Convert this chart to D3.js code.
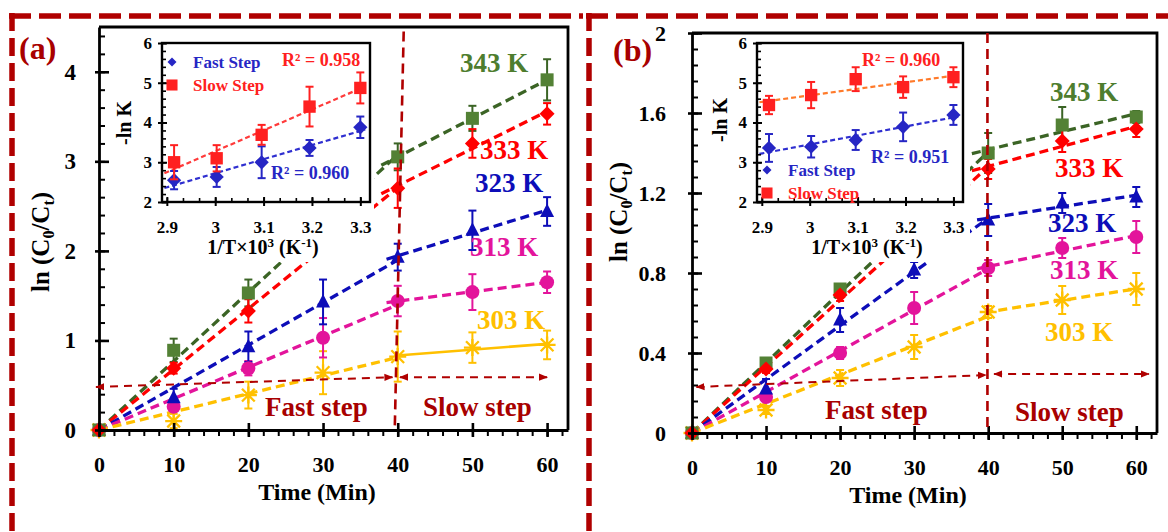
<!DOCTYPE html>
<html><head><meta charset="utf-8">
<script src="https://cdn.jsdelivr.net/npm/d3@7"></script>
<style>
body{margin:0;background:#fff;}
svg{display:block;}
</style></head><body>
<svg id="c" width="1168" height="532"></svg>
<script>
// ---------------- DATA ----------------
const times = [0, 10, 20, 30, 40, 50, 60];
const seriesLabels = ["343 K", "333 K", "323 K", "313 K", "303 K"];
const xTicks = [0, 10, 20, 30, 40, 50, 60];
const aYTicks = [0, 1, 2, 3, 4];
const bYTicks = [0, 0.4, 0.8, 1.2, 1.6, 2];
const insetXTicks = [2.9, 3.0, 3.1, 3.2, 3.3];
const insetYTicks = [2, 3, 4, 5, 6];

// panel (a)  ln(C0/Ct)
const a343 = [0, 0.89, 1.53, 2.30, 3.05, 3.48, 3.91];
const a343Err = [0, 0.13, 0.15, 0.15, 0.15, 0.14, 0.23];
const a333 = [0, 0.69, 1.33, 2.05, 2.70, 3.20, 3.53];
const a333Err = [0, 0.06, 0.13, 0.15, 0.22, 0.16, 0.12];
const a323 = [0, 0.36, 0.93, 1.43, 1.93, 2.23, 2.44];
const a323Err = [0, 0.10, 0.17, 0.25, 0.15, 0.22, 0.16];
const a313 = [0, 0.26, 0.69, 1.03, 1.44, 1.54, 1.65];
const a313Err = [0, 0.05, 0.08, 0.22, 0.17, 0.20, 0.12];
const a303 = [0, 0.10, 0.39, 0.64, 0.82, 0.92, 0.95];
const a303Err = [0, 0.08, 0.15, 0.24, 0.28, 0.17, 0.16];

// panel (b)
const b343 = [0, 0.35, 0.72, 1.05, 1.40, 1.54, 1.58];
const b343Err = [0, 0.02, 0.02, 0.05, 0.10, 0.09, 0.03];
const b333 = [0, 0.32, 0.69, 1.00, 1.32, 1.46, 1.52];
const b333Err = [0, 0.02, 0.03, 0.05, 0.05, 0.055, 0.04];
const b323 = [0, 0.22, 0.565, 0.815, 1.065, 1.15, 1.18];
const b323Err = [0, 0.05, 0.06, 0.04, 0.08, 0.05, 0.05];
const b313 = [0, 0.18, 0.40, 0.625, 0.825, 0.925, 0.98];
const b313Err = [0, 0.02, 0.03, 0.08, 0.04, 0.05, 0.08];
const b303 = [0, 0.115, 0.275, 0.43, 0.605, 0.665, 0.72];
const b303Err = [0, 0.02, 0.04, 0.06, 0.03, 0.07, 0.08];

// insets  -ln K vs 1/T x 10^3
const invT = [2.915, 3.003, 3.096, 3.195, 3.300];
const aFastK = [2.55, 2.63, 3.00, 3.36, 3.88];
const aFastErr = [0.23, 0.25, 0.40, 0.20, 0.27];
const aSlowK = [3.00, 3.10, 3.69, 4.40, 4.87];
const aSlowErr = [0.43, 0.33, 0.25, 0.50, 0.39];
const bFastK = [3.36, 3.39, 3.56, 3.89, 4.19];
const bFastErr = [0.35, 0.27, 0.25, 0.36, 0.25];
const bSlowK = [4.44, 4.69, 5.09, 4.89, 5.14];
const bSlowErr = [0.23, 0.33, 0.30, 0.27, 0.25];
const r2Labels = {aSlow: "0.958", aFast: "0.960", bSlow: "0.960", bFast: "0.951"};

// ---------------- STYLE ----------------
const SERIF = "'Liberation Serif','Times New Roman',serif";
const DARKRED = "#b00000";
const C = {
  green: "#538135", greenLine: "#3b6425", red: "#ff0000", blue: "#0d0db8",
  magenta: "#e3149b", yellow: "#ffc000", iBlue: "#2626c4", iRed: "#ff2020"
};

const svg = d3.select('#c');
const defs = svg.append('defs');
defs.append('marker').attr('id', 'ah').attr('viewBox', '0 0 10 10')
  .attr('refX', 9).attr('refY', 5).attr('markerWidth', 9).attr('markerHeight', 9)
  .attr('markerUnits', 'userSpaceOnUse').attr('orient', 'auto-start-reverse')
  .append('path').attr('d', 'M0,1L10,5L0,9Z').attr('fill', DARKRED);

function marker(g, type, cx, cy, color, s) {
  s = s || 1;
  if (type === 'square') {
    const h = 6.5 * s;
    g.append('rect').attr('x', cx - h).attr('y', cy - h).attr('width', 2 * h).attr('height', 2 * h).attr('fill', color);
  } else if (type === 'diamond') {
    const h = 7.5 * s;
    g.append('path').attr('d', `M${cx},${cy - h}L${cx + h},${cy}L${cx},${cy + h}L${cx - h},${cy}Z`).attr('fill', color);
  } else if (type === 'triangle') {
    g.append('path').attr('d', `M${cx},${cy - 8 * s}L${cx + 7 * s},${cy + 5.5 * s}L${cx - 7 * s},${cy + 5.5 * s}Z`).attr('fill', color);
  } else if (type === 'circle') {
    g.append('circle').attr('cx', cx).attr('cy', cy).attr('r', 7 * s).attr('fill', color);
  } else if (type === 'star') {
    const r = 8.5 * s, d = r * 0.75;
    g.append('path').attr('d', `M${cx},${cy - r}L${cx},${cy + r}M${cx - d},${cy - d}L${cx + d},${cy + d}M${cx - d},${cy + d}L${cx + d},${cy - d}M${cx - r},${cy}L${cx + r},${cy}`)
      .attr('stroke', color).attr('stroke-width', 2.3).attr('fill', 'none');
  }
}

function errBar(g, xp, y, v, e, color, cap, w) {
  if (!e) return;
  g.append('line').attr('x1', xp).attr('x2', xp).attr('y1', y(v - e)).attr('y2', y(v + e))
    .attr('stroke', color).attr('stroke-width', w);
  [v - e, v + e].forEach(q => g.append('line').attr('x1', xp - cap).attr('x2', xp + cap)
    .attr('y1', y(q)).attr('y2', y(q)).attr('stroke', color).attr('stroke-width', w));
}

function linreg(xs, ys) {
  const mx = d3.mean(xs), my = d3.mean(ys);
  const sxy = d3.sum(xs, (xv, i) => (xv - mx) * (ys[i] - my));
  const sxx = d3.sum(xs, xv => (xv - mx) * (xv - mx));
  const k = sxy / sxx;
  return {k, b: my - k * mx};
}

function styleAxisText(sel, size) {
  sel.attr('font-family', SERIF).attr('font-size', size).attr('font-weight', 'bold');
}

function text(g, str, x, y, size, color, anchor) {
  return g.append('text').attr('x', x).attr('y', y).attr('font-family', SERIF)
    .attr('font-size', size).attr('font-weight', 'bold').attr('fill', color)
    .attr('text-anchor', anchor || 'start').text(str);
}

function drawPanel(P) {
  const g = svg.append('g');
  const x = d3.scaleLinear().domain([0, 62.8]).range(P.xr);
  const y = d3.scaleLinear().domain(P.yDom).range(P.yr);
  const X0 = P.xr[0], Y0 = P.yr[0];

  // dashed border
  g.append('line').attr('x1', P.bx1).attr('x2', P.bx2).attr('y1', 16).attr('y2', 16)
    .attr('stroke', DARKRED).attr('stroke-width', 5.5).attr('stroke-dasharray', '22 8');
  g.append('line').attr('x1', P.bl).attr('x2', P.bl).attr('y1', 13).attr('y2', 532)
    .attr('stroke', DARKRED).attr('stroke-width', 5.5).attr('stroke-dasharray', '18 7');

  // frame top / right
  g.append('path').attr('d', `M${X0},${P.yr[1]}H${P.xr[1]}V${Y0}`).attr('fill', 'none')
    .attr('stroke', '#000').attr('stroke-width', 2.8);

  // trend lines
  P.series.forEach(s => {
    const fi = times.map((t, i) => i).filter(i => times[i] <= 40);
    const kf = d3.sum(fi, i => times[i] * s.vals[i]) / d3.sum(fi, i => times[i] * times[i]);
    g.append('line').attr('x1', x(0)).attr('y1', y(0)).attr('x2', x(40)).attr('y2', y(40 * kf))
      .attr('stroke', s.line).attr('stroke-width', 3.3).attr('stroke-dasharray', '9 5');
    const si = times.map((t, i) => i).filter(i => times[i] >= 40);
    const r = linreg(si.map(i => times[i]), si.map(i => s.vals[i]));
    const t0 = s.slowStart;
    g.append('line').attr('x1', x(t0)).attr('y1', y(r.k * t0 + r.b)).attr('x2', x(60)).attr('y2', y(r.k * 60 + r.b))
      .attr('stroke', s.line).attr('stroke-width', s.slowSolid ? 2.6 : 3.3)
      .attr('stroke-dasharray', s.slowSolid ? null : '9 5');
  });

  // error bars + markers (drawing order)
  P.order.forEach(idx => {
    const s = P.series[idx];
    times.forEach((t, i) => errBar(g, x(t), y, s.vals[i], s.errs[i], s.errColor, 4, 2));
  });
  P.order.forEach(idx => {
    const s = P.series[idx];
    times.forEach((t, i) => marker(g, s.marker, x(t), y(s.vals[i]), s.color));
  });

  // axes
  const gx = g.append('g').attr('transform', `translate(0,${Y0})`)
    .call(d3.axisBottom(x).tickValues(xTicks).tickSizeInner(7).tickSizeOuter(0).tickFormat(d3.format('d')));
  gx.selectAll('.tick line').attr('y1', -7).attr('y2', 7).attr('stroke-width', 2.6);
  gx.selectAll('.tick text').attr('y', P.xLabOff).attr('dy', 0);
  gx.select('.domain').attr('stroke-width', 2.8);
  styleAxisText(gx, 22);
  const gxm = g.append('g').attr('transform', `translate(0,${Y0})`)
    .call(d3.axisBottom(x).tickValues(d3.range(0, 63, 2)).tickSize(6).tickFormat(''));
  gxm.select('.domain').remove();
  gxm.selectAll('.tick line').attr('stroke-width', 2);

  const gy = g.append('g').attr('transform', `translate(${X0},0)`)
    .call(d3.axisLeft(y).tickValues(P.yTicks).tickSizeInner(4).tickSizeOuter(0).tickFormat(d3.format('~g')));
  gy.selectAll('.tick line').attr('x1', -4).attr('x2', 10).attr('stroke-width', 2.6);
  gy.selectAll('.tick text').attr('x', -P.yLabOff);
  gy.select('.domain').attr('stroke-width', 2.8);
  styleAxisText(gy, P.yFont);
  const gym = g.append('g').attr('transform', `translate(${X0},0)`)
    .call(d3.axisLeft(y).tickValues(P.yMinor).tickSize(-6).tickFormat(''));
  gym.select('.domain').remove();
  gym.selectAll('.tick line').attr('stroke-width', 2);

  // axis titles
  text(g, 'Time (Min)', P.xTitle[0], P.xTitle[1], 24, '#000', 'middle');
  const yt = g.append('text').attr('transform', `translate(${P.yTitle[0]},${P.yTitle[1]}) rotate(-90)`)
    .attr('font-family', SERIF).attr('font-size', 25).attr('font-weight', 'bold').attr('text-anchor', 'middle');
  yt.append('tspan').text('ln (C');
  yt.append('tspan').attr('font-size', 16).attr('dy', 5).text('0');
  yt.append('tspan').attr('dy', -5).text('/C');
  yt.append('tspan').attr('font-size', 16).attr('dy', 5).text('t');
  yt.append('tspan').attr('dy', -5).text(')');

  // vertical separator and arrows
  g.append('line').attr('x1', x(P.vline[0])).attr('y1', y(P.vline[2])).attr('x2', x(P.vline[1])).attr('y2', y(0))
    .attr('stroke', DARKRED).attr('stroke-width', 2.6).attr('stroke-dasharray', '10 6');
  P.arrows.forEach(a => {
    g.append('line').attr('x1', x(a[0])).attr('y1', y(a[1])).attr('x2', x(a[2])).attr('y2', y(a[3]))
      .attr('stroke', DARKRED).attr('stroke-width', 2).attr('stroke-dasharray', '8 6')
      .attr('marker-start', 'url(#ah)').attr('marker-end', 'url(#ah)');
  });
  text(g, 'Fast step', P.fastLab[0], P.fastLab[1], 27, '#a80000');
  text(g, 'Slow step', P.slowLab[0], P.slowLab[1], 27, '#a80000');

  // series labels
  P.series.forEach((s, i) => text(g, seriesLabels[i], s.lab[0], s.lab[1], 27, s.labColor));

  // panel tag
  text(g, P.tag, P.tagPos[0], P.tagPos[1], 32, '#a80000');

  // ---------- inset ----------
  const I = P.inset;
  g.append('rect').attr('x', I.bg[0]).attr('y', I.bg[1]).attr('width', I.bg[2] - I.bg[0]).attr('height', I.bg[3] - I.bg[1]).attr('fill', '#fff');
  const ix = d3.scaleLinear().domain([2.89, 3.32]).range(I.xr);
  const iy = d3.scaleLinear().domain([2, 6]).range(I.yr);
  const pts = [
    {vals: I.fast, errs: I.fastErr, color: C.iBlue, line: I.fastLine, type: 'diamond'},
    {vals: I.slow, errs: I.slowErr, color: C.iRed, line: I.slowLine, type: 'square'}
  ];
  pts.forEach(p => {
    const r = linreg(invT, p.vals);
    g.append('line').attr('x1', ix(2.895)).attr('y1', iy(r.k * 2.895 + r.b)).attr('x2', ix(3.31)).attr('y2', iy(r.k * 3.31 + r.b))
      .attr('stroke', p.line).attr('stroke-width', 2.2).attr('stroke-dasharray', '5 3');
  });
  pts.forEach(p => {
    invT.forEach((t, i) => errBar(g, ix(t), iy, p.vals[i], p.errs[i], p.color, 4, 2));
    invT.forEach((t, i) => marker(g, p.type, ix(t), iy(p.vals[i]), p.color, 0.95));
  });
  g.append('rect').attr('x', I.xr[0]).attr('y', I.yr[1]).attr('width', I.xr[1] - I.xr[0]).attr('height', I.yr[0] - I.yr[1])
    .attr('fill', 'none').attr('stroke', '#000').attr('stroke-width', 2.4);
  const igx = g.append('g').attr('transform', `translate(0,${I.yr[0]})`)
    .call(d3.axisBottom(ix).tickValues(insetXTicks).tickSizeOuter(0).tickFormat(d3.format('~g')));
  igx.selectAll('.tick line').attr('y1', -5).attr('y2', 4).attr('stroke-width', 2);
  igx.selectAll('.tick text').attr('y', 31).attr('dy', 0);
  igx.select('.domain').remove();
  styleAxisText(igx, 17);
  const igxm = g.append('g').attr('transform', `translate(0,${I.yr[0]})`)
    .call(d3.axisBottom(ix).tickValues(d3.range(2.9, 3.32, 0.1 / 3)).tickSize(-4).tickFormat(''));
  igxm.select('.domain').remove();
  igxm.selectAll('.tick line').attr('stroke-width', 1.6);
  const igy = g.append('g').attr('transform', `translate(${I.xr[0]},0)`)
    .call(d3.axisLeft(iy).tickValues(insetYTicks).tickSizeOuter(0).tickFormat(d3.format('d')));
  igy.selectAll('.tick line').attr('x1', -4).attr('x2', 5).attr('stroke-width', 2);
  igy.selectAll('.tick text').attr('x', -10);
  igy.select('.domain').remove();
  styleAxisText(igy, 17);
  const igym = g.append('g').attr('transform', `translate(${I.xr[0]},0)`)
    .call(d3.axisLeft(iy).tickValues(d3.range(2, 6.01, 0.2)).tickSize(-4).tickFormat(''));
  igym.select('.domain').remove();
  igym.selectAll('.tick line').attr('stroke-width', 1.6);

  // inset titles
  const ixt = g.append('text').attr('x', I.xTitle[0]).attr('y', I.xTitle[1]).attr('text-anchor', 'middle')
    .attr('font-family', SERIF).attr('font-size', 20).attr('font-weight', 'bold');
  ixt.append('tspan').text('1/T×10');
  ixt.append('tspan').attr('font-size', 13).attr('dy', -7).text('3');
  ixt.append('tspan').attr('dy', 7).text(' (K');
  ixt.append('tspan').attr('font-size', 13).attr('dy', -7).text('-1');
  ixt.append('tspan').attr('dy', 7).text(')');
  g.append('text').attr('transform', `translate(${I.yTitle[0]},${I.yTitle[1]}) rotate(-90)`)
    .attr('text-anchor', 'middle').attr('font-family', SERIF).attr('font-size', 20).attr('font-weight', 'bold').text('-ln K');

  // legend
  marker(g, 'diamond', I.leg[0], I.leg[1], C.iBlue, 0.6);
  text(g, 'Fast Step', I.leg[0] + 21, I.leg[1] + 6, 17, C.iBlue);
  marker(g, 'square', I.leg[0], I.leg[1] + 23, C.iRed, 0.85);
  text(g, 'Slow Step', I.leg[0] + 21, I.leg[1] + 29, 17, C.iRed);
  text(g, 'R² = ' + I.r2Slow, I.r2SlowPos[0], I.r2SlowPos[1], 18, C.iRed);
  text(g, 'R² = ' + I.r2Fast, I.r2FastPos[0], I.r2FastPos[1], 18, C.iBlue);
}

function mkSeries(vals, errs, lab, slowSolidYellow) {
  return [
    {vals: vals[0], errs: errs[0], color: C.green, line: C.greenLine, errColor: C.greenLine, marker: 'square', lab: lab[0], labColor: '#4e7d2e', slowStart: 37.8},
    {vals: vals[1], errs: errs[1], color: C.red, line: C.red, errColor: C.red, marker: 'diamond', lab: lab[1], labColor: C.red, slowStart: 37.8},
    {vals: vals[2], errs: errs[2], color: C.blue, line: C.blue, errColor: C.blue, marker: 'triangle', lab: lab[2], labColor: C.blue, slowStart: 38.5},
    {vals: vals[3], errs: errs[3], color: C.magenta, line: C.magenta, errColor: C.magenta, marker: 'circle', lab: lab[3], labColor: C.magenta, slowStart: 38.5},
    {vals: vals[4], errs: errs[4], color: C.yellow, line: C.yellow, errColor: C.yellow, marker: 'star', lab: lab[4], labColor: C.yellow, slowStart: 39.5, slowSolid: slowSolidYellow}
  ];
}

drawPanel({
  tag: '(a)', tagPos: [19, 59], bx1: 9, bx2: 583, bl: 12,
  xr: [99, 568], yr: [430, 27], yDom: [0, 4.5], yTicks: aYTicks, yMinor: d3.range(0, 4.41, 0.2),
  yFont: 23, yLabOff: 23, xLabOff: 42,
  xTitle: [317, 500], yTitle: [49, 242],
  vline: [40.8, 39.6, 4.45],
  arrows: [[-0.4, 0.48, 39.3, 0.59], [40.3, 0.59, 60, 0.59]],
  fastLab: [265, 416], slowLab: [423, 416],
  series: mkSeries([a343, a333, a323, a313, a303], [a343Err, a333Err, a323Err, a313Err, a303Err],
    [[460, 72], [480, 159], [475, 192], [470, 256], [477, 329]], true),
  order: [4, 3, 2, 0, 1],
  inset: {
    bg: [112, 36, 374, 262], xr: [162, 370], yr: [202, 43],
    fast: aFastK, fastErr: aFastErr, slow: aSlowK, slowErr: aSlowErr,
    fastLine: '#2f2fd0', slowLine: '#ff3b3b',
    xTitle: [263, 254], yTitle: [131, 123], leg: [172, 62],
    r2Slow: r2Labels.aSlow, r2SlowPos: [282, 66], r2Fast: r2Labels.aFast, r2FastPos: [271, 179]
  }
});

drawPanel({
  tag: '(b)', tagPos: [613, 61], bx1: 586, bx2: 1168, bl: 589,
  xr: [692, 1157], yr: [433, 33], yDom: [0, 2], yTicks: bYTicks, yMinor: d3.range(0, 2.001, 0.08),
  yFont: 22, yLabOff: 26, xLabOff: 42,
  xTitle: [908, 503], yTitle: [627, 212],
  vline: [39.9, 39.9, 2],
  arrows: [[0.6, 0.23, 39.7, 0.29], [40.8, 0.295, 61.7, 0.295]],
  fastLab: [825, 419], slowLab: [1015, 421],
  series: mkSeries([b343, b333, b323, b313, b303], [b343Err, b333Err, b323Err, b313Err, b303Err],
    [[1050, 101], [1055, 177], [1048, 232], [1050, 279], [1045, 341]], false),
  order: [4, 3, 2, 0, 1],
  inset: {
    bg: [705, 36, 970, 262], xr: [757, 963], yr: [202, 43],
    fast: bFastK, fastErr: bFastErr, slow: bSlowK, slowErr: bSlowErr,
    fastLine: '#2f2fd0', slowLine: '#ff7a2a',
    xTitle: [867, 254], yTitle: [727, 120], leg: [767, 170],
    r2Slow: r2Labels.bSlow, r2SlowPos: [862, 66], r2Fast: r2Labels.bFast, r2FastPos: [871, 163]
  }
});
</script>
</body></html>
